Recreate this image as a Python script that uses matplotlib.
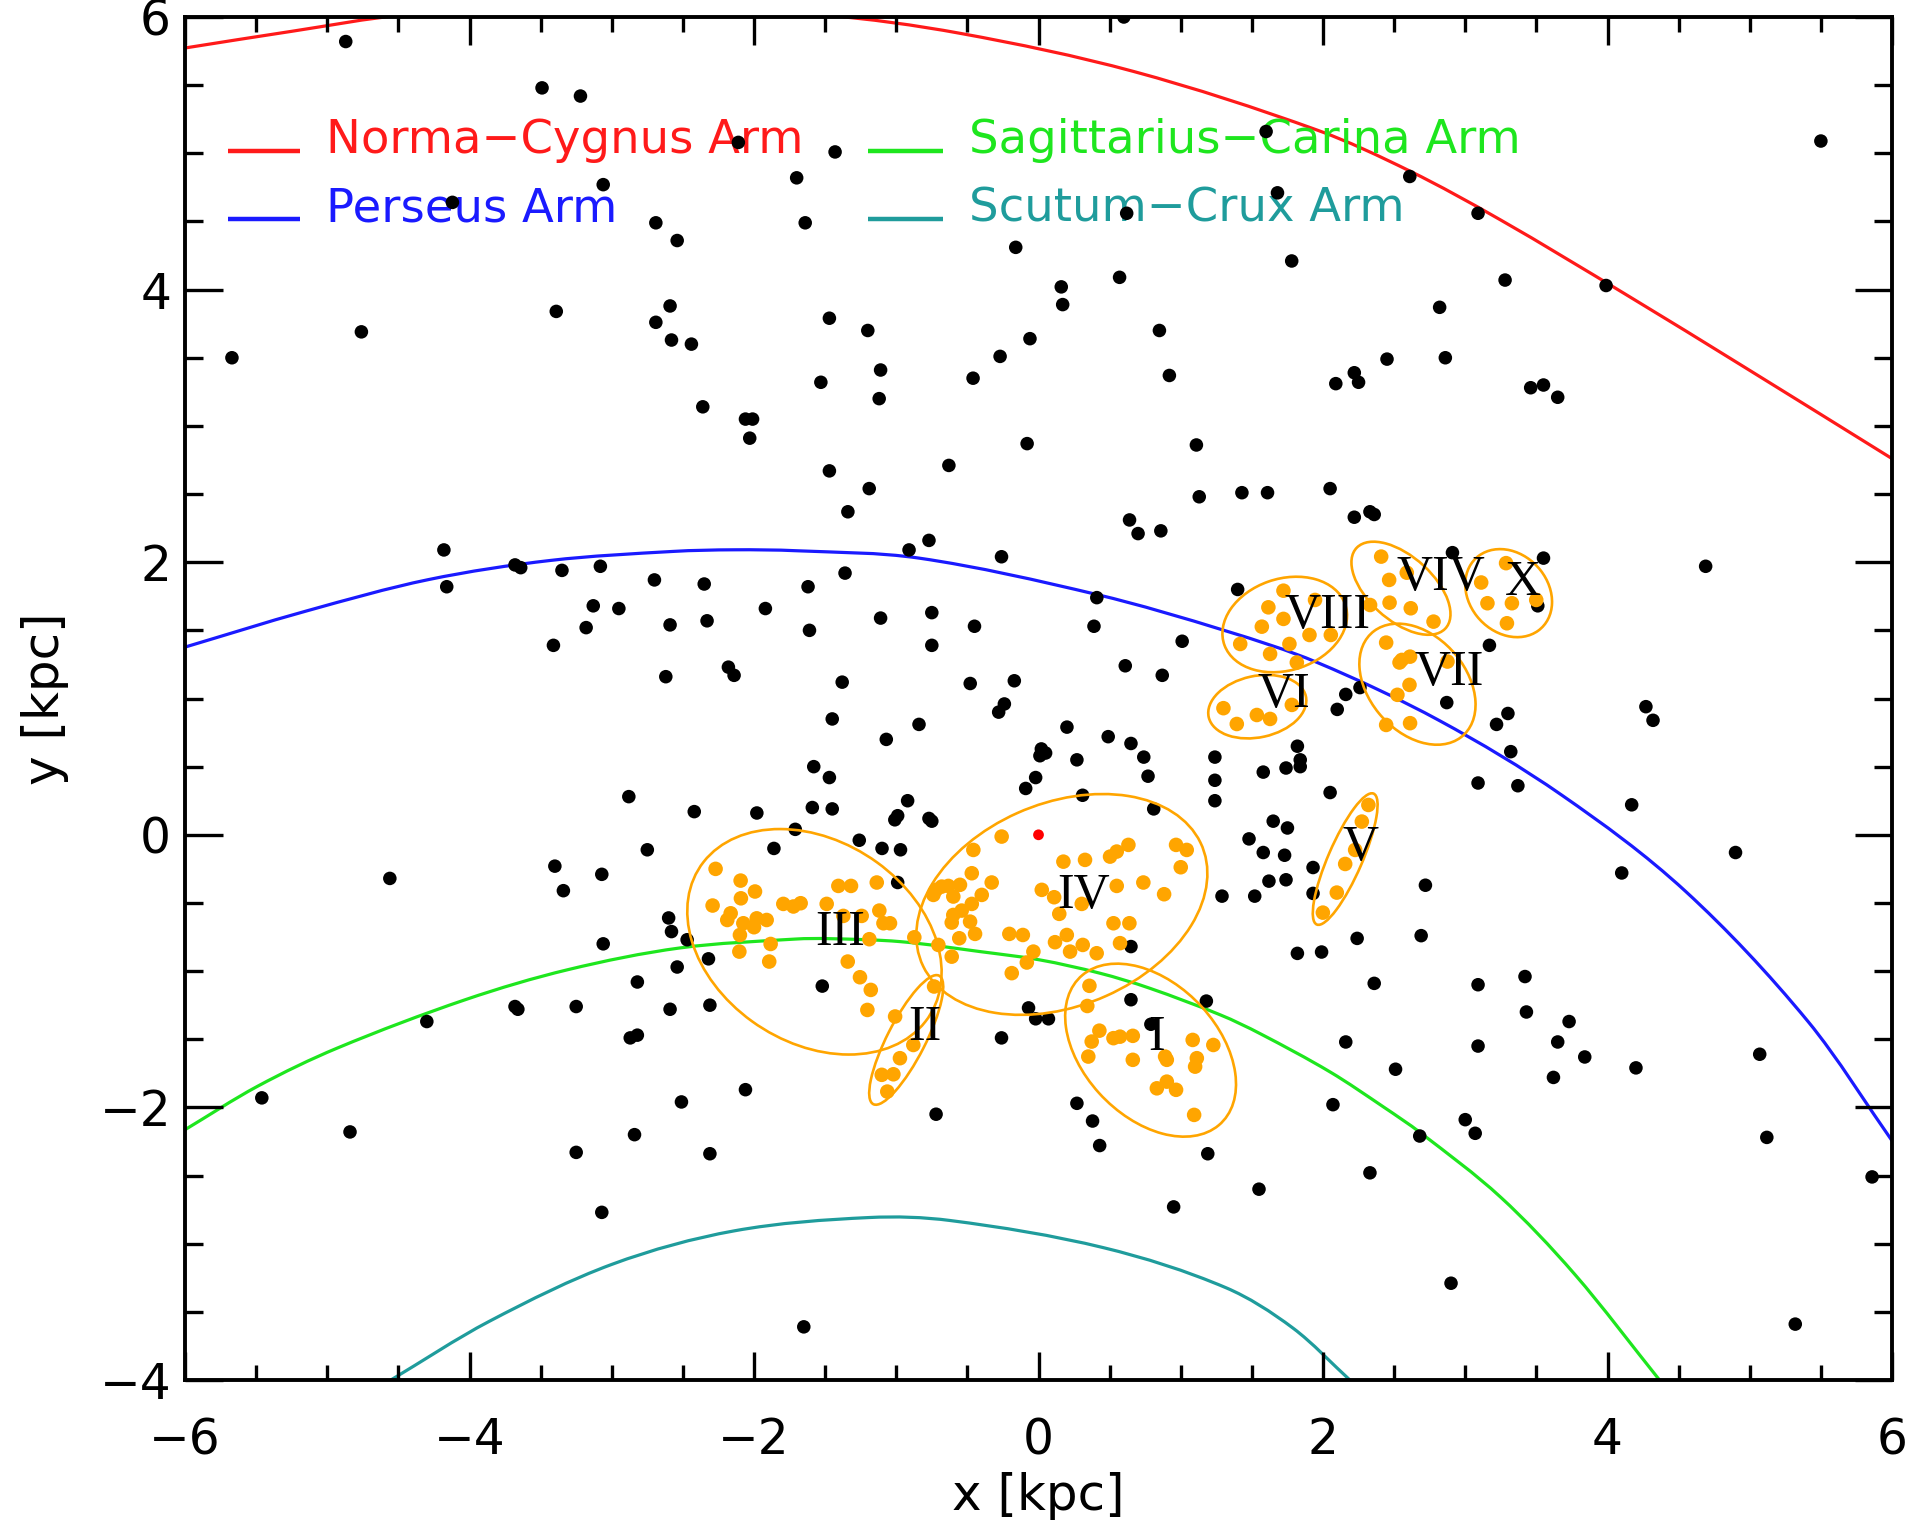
import matplotlib
matplotlib.use("Agg")
import matplotlib.pyplot as plt
from matplotlib.patches import Ellipse, PathPatch
from matplotlib.path import Path
from matplotlib.ticker import MultipleLocator

# ---------------- spiral arm traces (kpc) ----------------
norma_x = [-6.01, -5.25, -4.46, -3.00, -1.51, -0.55, 0.67, 1.96, 2.61, 3.25, 4.12, 4.98, 6.00]
norma_y = [5.771, 5.895, 6.015, 6.10, 6.015, 5.88, 5.60, 5.17, 4.87, 4.51, 3.97, 3.42, 2.76]

perseus_x = [-6.01, -5.15, -4.29, -3.43, -2.57, -2.14, -1.70, -0.84, 0.41, 1.32, 1.96, 2.82, 3.68, 4.55, 5.41, 6.03]
perseus_y = [1.374, 1.641, 1.872, 2.013, 2.079, 2.091, 2.084, 2.030, 1.763, 1.495, 1.264, 0.837, 0.290, -0.416, -1.370, -2.290]

sagittarius_x = [-6.01, -5.49, -4.93, -4.03, -3.31, -2.52, -1.71, -1.47, -0.97, -0.41, 0.01, 0.43, 0.78, 1.28, 1.56, 2.05, 2.43, 2.69, 3.25, 3.77, 4.37]
sagittarius_y = [-2.170, -1.845, -1.565, -1.210, -0.990, -0.830, -0.765, -0.762, -0.784, -0.857, -0.918, -1.015, -1.125, -1.322, -1.460, -1.740, -2.000, -2.190, -2.660, -3.225, -4.006]

scutum_x = [-4.57, -3.86, -3.00, -2.14, -1.19, -0.62, 0.46, 1.32, 1.79, 2.20]
scutum_y = [-4.011, -3.569, -3.152, -2.906, -2.808, -2.830, -3.030, -3.324, -3.620, -4.011]

arm_names = ["Norma\u2212Cygnus Arm", "Perseus Arm", "Sagittarius\u2212Carina Arm", "Scutum\u2212Crux Arm"]
arm_colors = ["#ff1a1a", "#1a1aff", "#1ee61e", "#1f9c9c"]

# ---------------- field sources (kpc) ----------------
field_x = [-4.87, -3.49, -3.22, -2.11, -1.43, -1.70, -1.64, -2.69, -2.54, -3.06, -4.12, -3.39, -4.76, -5.67,
           -2.59, -2.69, -2.58, -2.44, -1.47, -1.20, -1.11, -1.12, -1.53, -2.36, -2.06, -2.01, -2.03, -1.47,
           -1.19, -1.34, -0.63, -0.77, -0.91, -4.18,
           0.60, 5.50, 1.60, 2.61, 1.68, 3.09, 0.62, -0.16, 1.78, 3.28, 3.99, 0.57, 0.16, 0.17, 2.82, -0.06,
           -0.27, -0.46, 0.85, 0.92, 2.45, 2.86, 2.09, 2.22, 2.25, 3.46, 3.55, 3.65, -0.08, 1.11, 1.13, 1.43,
           1.61, 2.05, 2.22, 2.33, 2.36, 0.64, 0.70, 0.86, -0.26,
           -3.68, -3.64, -4.16, -3.35, -3.08, -2.70, -2.35, -1.62, -1.36, -3.13, -2.95, -1.92, -3.18, -2.59,
           -2.33, -1.61, -1.11, -0.75, -0.75, -3.41, -2.62, -2.18, -2.14, -1.38, -1.45, -0.84, -1.07, -1.58,
           -1.47, -2.88, -2.42, -1.98, -1.59, -1.45, -0.92, -1.01, -0.99, -0.77, -0.75, -1.71, -1.86, -2.75,
           -1.26, -1.10, -0.97, -0.99, -3.40, -3.07, -4.56, -3.34, -2.60, -2.58, -2.47, -3.06, -2.32, -2.54,
           -1.52, -2.82, -3.68, -3.66, -3.25, -2.59, -2.31, -4.30, -2.87, -2.82,
           -5.46, -4.84, -2.51, -2.06, -2.84, -3.25, -2.31, -3.07, -1.65, -0.72,
           -0.07, -0.02, 0.07, -0.26, 0.65, 1.18, 0.79, 0.27, 0.38, 0.43, 1.19, 0.95, 1.55, 2.16, 2.07, 2.51,
           2.33, 2.68, 3.00, 3.07, 3.09, 3.43, 3.73, 3.65, 3.84, 4.20, 3.62, 5.07, 5.12, 5.86, 2.90, 5.32,
           3.42, 3.09, 2.36,
           0.41, -0.45, 0.39, 1.01, 0.61, 0.87, -0.48, -0.17, 1.40, -0.24, -0.28, 0.20, 0.49, 0.65, 0.02,
           0.05, 0.01, 0.27, 0.74, -0.02, -0.09, 0.77, 0.31, 0.81, 1.24, 1.24, 1.24, 1.82, 1.84, 1.84, 1.58,
           1.74, 2.05, 2.16, 2.10, 3.09, 3.37, 3.32, 3.22, 3.30, 2.87, 3.17, 4.27, 4.32, 4.69, 4.17, 4.90,
           4.10, 2.72, 1.65, 1.75, 1.48, 1.58, 1.73, 1.62, 1.74, 1.93, 1.29, 1.52, 1.93, 2.24, 2.69, 1.82,
           1.99, 0.65, 2.91, 3.55, 3.51, 2.26]
field_y = [5.82, 5.48, 5.42, 5.08, 5.01, 4.82, 4.49, 4.49, 4.36, 4.77, 4.64, 3.84, 3.69, 3.50,
           3.88, 3.76, 3.63, 3.60, 3.79, 3.70, 3.41, 3.20, 3.32, 3.14, 3.05, 3.05, 2.91, 2.67,
           2.54, 2.37, 2.71, 2.16, 2.09, 2.09,
           6.00, 5.09, 5.16, 4.83, 4.71, 4.56, 4.56, 4.31, 4.21, 4.07, 4.03, 4.09, 4.02, 3.89, 3.87, 3.64,
           3.51, 3.35, 3.70, 3.37, 3.49, 3.50, 3.31, 3.39, 3.32, 3.28, 3.30, 3.21, 2.87, 2.86, 2.48, 2.51,
           2.51, 2.54, 2.33, 2.37, 2.35, 2.31, 2.21, 2.23, 2.04,
           1.98, 1.96, 1.82, 1.94, 1.97, 1.87, 1.84, 1.82, 1.92, 1.68, 1.66, 1.66, 1.52, 1.54,
           1.57, 1.50, 1.59, 1.63, 1.39, 1.39, 1.16, 1.23, 1.17, 1.12, 0.85, 0.81, 0.70, 0.50,
           0.42, 0.28, 0.17, 0.16, 0.20, 0.19, 0.25, 0.11, 0.14, 0.12, 0.10, 0.04, -0.10, -0.11,
           -0.04, -0.10, -0.11, -0.35, -0.23, -0.29, -0.32, -0.41, -0.61, -0.71, -0.77, -0.80, -0.91, -0.97,
           -1.11, -1.08, -1.26, -1.28, -1.26, -1.28, -1.25, -1.37, -1.49, -1.47,
           -1.93, -2.18, -1.96, -1.87, -2.20, -2.33, -2.34, -2.77, -3.61, -2.05,
           -1.27, -1.35, -1.35, -1.49, -1.21, -1.22, -1.39, -1.97, -2.10, -2.28, -2.34, -2.73, -2.60, -1.52,
           -1.98, -1.72, -2.48, -2.21, -2.09, -2.19, -1.55, -1.30, -1.37, -1.52, -1.63, -1.71, -1.78, -1.61,
           -2.22, -2.51, -3.29, -3.59, -1.04, -1.10, -1.09,
           1.74, 1.53, 1.53, 1.42, 1.24, 1.17, 1.11, 1.13, 1.80, 0.96, 0.90, 0.79, 0.72, 0.67, 0.63,
           0.60, 0.58, 0.55, 0.57, 0.42, 0.34, 0.43, 0.29, 0.19, 0.57, 0.40, 0.25, 0.65, 0.55, 0.50, 0.46,
           0.49, 0.31, 1.03, 0.92, 0.38, 0.36, 0.61, 0.81, 0.89, 0.97, 1.39, 0.94, 0.84, 1.97, 0.22, -0.13,
           -0.28, -0.37, 0.10, 0.05, -0.03, -0.13, -0.15, -0.34, -0.33, -0.24, -0.45, -0.45, -0.43, -0.76,
           -0.74, -0.87, -0.86, -0.82, 2.07, 2.03, 1.68, 1.08]

# ---------------- group members (kpc) ----------------
group_x = [
    # III
    -2.270, -2.094, -1.993, -2.092, -2.291, -2.164, -2.188, -2.075, -1.981, -1.911, -2.000, -2.099, -2.103,
    -1.883, -1.893, -1.794, -1.723, -1.672, -1.407, -1.318, -1.137, -1.489, -1.372, -1.243, -1.119, -1.044,
    -1.090, -1.189, -0.873, -1.341, -1.255, -1.179, -1.203, -0.704,
    # IV
    -0.259, -0.458, -0.469, -0.329, -0.720, -0.680, -0.634, -0.552, -0.739, -0.599, -0.399, -0.469, -0.540,
    -0.599, -0.610, -0.481, -0.446, -0.557, -0.610, -0.205, -0.110, -0.036, -0.082, -0.188, 0.023, 0.110,
    0.146, 0.175, 0.327, 0.304, 0.116, 0.199, 0.222, 0.311, 0.409, 0.503, 0.550, 0.632, 0.550, 0.527,
    0.639, 0.573, 0.737, 0.883, 0.967, 1.042, 1.000,
    # I
    0.358, 0.343, 0.428, 0.374, 0.350, 0.527, 0.573, 0.663, 0.663, 0.890, 0.902, 1.084, 1.229, 1.113,
    1.101, 0.832, 0.902, 0.967, 1.094,
    # II
    -0.734, -1.008, -0.880, -0.974, -1.102, -1.020, -1.063,
    # V
    2.319, 2.273, 2.226, 2.156, 2.097, 1.999,
    # VI
    1.300, 1.394, 1.535, 1.628, 1.781,
    # VIII
    1.722, 1.944, 1.616, 1.722, 1.570, 1.905, 2.055, 1.418, 1.764, 1.628, 1.816, 2.331,
    # VIV
    2.409, 2.465, 2.589, 2.468, 2.617, 2.777,
    # X
    3.287, 3.112, 3.156, 3.328, 3.499, 3.293,
    # VII
    2.444, 2.554, 2.612, 2.538, 2.875, 2.608, 2.523, 2.444, 2.612,
]
group_y = [
    # III
    -0.250, -0.336, -0.416, -0.466, -0.519, -0.576, -0.625, -0.649, -0.613, -0.625, -0.678, -0.735, -0.857,
    -0.801, -0.930, -0.507, -0.526, -0.502, -0.375, -0.375, -0.350, -0.507, -0.595, -0.595, -0.556, -0.649,
    -0.649, -0.766, -0.752, -0.930, -1.045, -1.138, -1.285, -0.808,
    # IV
    -0.013, -0.111, -0.282, -0.350, -0.404, -0.380, -0.375, -0.367, -0.441, -0.453, -0.441, -0.507, -0.556,
    -0.588, -0.644, -0.637, -0.727, -0.759, -0.894, -0.727, -0.735, -0.857, -0.937, -1.015, -0.404, -0.458,
    -0.580, -0.197, -0.184, -0.507, -0.788, -0.735, -0.857, -0.808, -0.869, -0.160, -0.123, -0.074, -0.375,
    -0.649, -0.649, -0.795, -0.350, -0.436, -0.074, -0.111, -0.238,
    # I
    -1.108, -1.256, -1.437, -1.517, -1.627, -1.492, -1.481, -1.475, -1.651, -1.627, -1.651, -1.505, -1.542,
    -1.639, -1.701, -1.860, -1.811, -1.871, -2.055,
    # II
    -1.113, -1.333, -1.542, -1.639, -1.761, -1.757, -1.884,
    # V
    0.219, 0.097, -0.111, -0.214, -0.424, -0.571,
    # VI
    0.929, 0.813, 0.879, 0.850, 0.953,
    # VIII
    1.791, 1.723, 1.669, 1.584, 1.527, 1.466, 1.466, 1.400, 1.400, 1.327, 1.264, 1.686,
    # VIV
    2.041, 1.870, 1.923, 1.703, 1.662, 1.564,
    # X
    1.993, 1.851, 1.699, 1.699, 1.723, 1.552,
    # VII
    1.410, 1.283, 1.307, 1.264, 1.271, 1.100, 1.027, 0.806, 0.819,
]

sun_x = [0.0]
sun_y = [0.0]

# ---------------- group outlines and names ----------------
group_names = ["I", "II", "III", "IV", "V", "VI", "VII", "VIII", "VIV", "X"]
ell_cx = [0.788, -0.930, -1.575, 0.164, 2.156, 1.538, 2.664, 1.731, 2.548, 3.305]
ell_cy = [-1.580, -1.505, -0.785, -0.511, -0.178, 0.940, 1.105, 1.543, 1.809, 1.773]
ell_w = [1.46, 1.05, 1.95, 2.15, 1.04, 0.70, 0.99, 0.90, 0.86, 0.69]
ell_h = [0.96, 0.27, 1.46, 1.48, 0.24, 0.45, 0.69, 0.67, 0.46, 0.56]
ell_ang = [-49, 64, -37, 25, 67.5, 13, -52, 20, -44, -53]
name_x = [0.833, -0.797, -1.395, 0.315, 2.261, 1.727, 2.887, 2.033, 2.829, 3.404]
name_y = [-1.578, -1.505, -0.808, -0.539, -0.184, 0.940, 1.100, 1.516, 1.797, 1.760]

orange = "#ffa500"


def smooth_trace(xs, ys):
    """Piecewise cubic (Hermite) Bezier path through every traced point; y is single-valued in x."""
    n = len(xs)
    slopes = []
    for i in range(n):
        lo = max(i - 1, 0)
        hi = min(i + 1, n - 1)
        slopes.append((ys[hi] - ys[lo]) / (xs[hi] - xs[lo]))
    verts = [(xs[0], ys[0])]
    codes = [Path.MOVETO]
    for i in range(n - 1):
        h = (xs[i + 1] - xs[i]) / 3.0
        verts += [(xs[i] + h, ys[i] + slopes[i] * h),
                  (xs[i + 1] - h, ys[i + 1] - slopes[i + 1] * h),
                  (xs[i + 1], ys[i + 1])]
        codes += [Path.CURVE4] * 3
    return Path(verts, codes)


fig = plt.figure(figsize=(19.10, 15.25), dpi=100)
ax = fig.add_axes([185 / 1910, 1 - 1380 / 1525, (1892 - 185) / 1910, (1380 - 17) / 1525])

arms = [(norma_x, norma_y), (perseus_x, perseus_y), (sagittarius_x, sagittarius_y), (scutum_x, scutum_y)]
for (axs, ays), c in zip(arms, arm_colors):
    ax.add_patch(PathPatch(smooth_trace(axs, ays), fill=False, edgecolor=c, lw=2.3, zorder=1))

# legend drawn as two columns of short segments and coloured names
leg_line_x = [(-5.70, -5.19), (-5.70, -5.19), (-1.20, -0.67), (-1.20, -0.67)]
leg_text_x = [-5.01, -5.01, -0.49, -0.49]
leg_row_y = [5.00, 4.50, 5.00, 4.50]
for name, c, (x0, x1), tx, ty in zip(arm_names, arm_colors, leg_line_x, leg_text_x, leg_row_y):
    ax.plot([x0, x1], [ty + 0.02, ty + 0.02], color=c, lw=3.2, zorder=1.5, solid_capstyle="butt")
    ax.text(tx, ty, name, color=c, fontsize=33.5, ha="left", va="baseline", zorder=1.5)

ax.scatter(field_x, field_y, s=95, c="black", edgecolors="none", zorder=2)

for cx, cy, w, h, a in zip(ell_cx, ell_cy, ell_w, ell_h, ell_ang):
    ax.add_patch(Ellipse((cx, cy), w, h, angle=a, fill=False, edgecolor=orange, lw=1.9, zorder=3))

ax.scatter(group_x, group_y, s=110, c=orange, edgecolors="none", zorder=4)
ax.scatter(sun_x, sun_y, s=60, c="#ff0000", edgecolors="none", zorder=5)

for nm, nx, ny in zip(group_names, name_x, name_y):
    ax.text(nx, ny, nm, fontsize=36, family=["Liberation Serif", "DejaVu Serif"],
            ha="center", va="baseline", color="black", zorder=6)

ax.set_xlim(-6, 6)
ax.set_ylim(-4, 6)
ax.xaxis.set_major_locator(MultipleLocator(2))
ax.xaxis.set_minor_locator(MultipleLocator(0.5))
ax.yaxis.set_major_locator(MultipleLocator(2))
ax.yaxis.set_minor_locator(MultipleLocator(0.5))
ax.tick_params(axis="both", which="both", direction="in", top=True, right=True, width=2.4, colors="black")
ax.tick_params(axis="x", which="major", length=20, pad=26, labelsize=35)
ax.tick_params(axis="x", which="minor", length=11)
ax.tick_params(axis="y", which="major", length=27, pad=10, labelsize=35)
ax.tick_params(axis="y", which="minor", length=13)
for sp in ax.spines.values():
    sp.set_linewidth(2.8)

ax.set_xlabel("x [kpc]", fontsize=36, labelpad=6)
ax.set_ylabel("y [kpc]", fontsize=36, labelpad=22)

fig.savefig("out.png", dpi=100)
